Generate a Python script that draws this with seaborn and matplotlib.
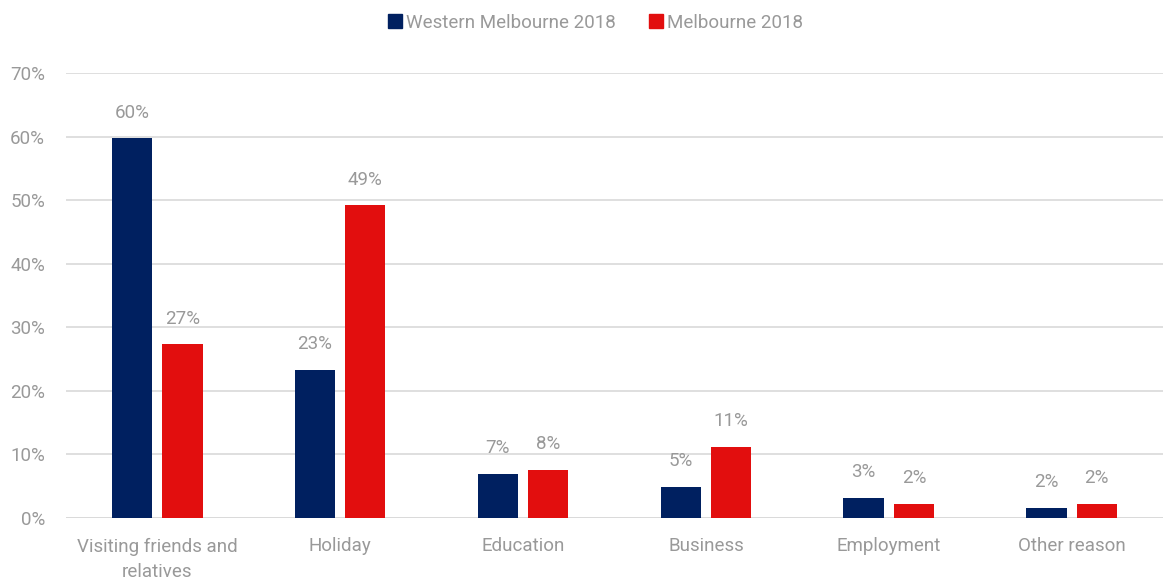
import pandas as pd
import seaborn as sns
import matplotlib.pyplot as plt

categories = ["Visiting friends and\nrelatives", "Holiday", "Education", "Business", "Employment", "Other reason"]
western = [59.7, 23.3, 6.9, 4.9, 3.2, 1.6]
melbourne = [27.3, 49.2, 7.6, 11.2, 2.2, 2.2]
series = ["Western Melbourne 2018", "Melbourne 2018"]
colors = ["#002060", "#E20E0E"]
grey = "#999999"

df = pd.DataFrame({
    "category": categories * 2,
    "value": western + melbourne,
    "series": [series[0]] * len(categories) + [series[1]] * len(categories),
})

sns.set_style("white")
plt.rcParams["font.family"] = ["Roboto", "DejaVu Sans"]
fs = 13.5

fig = plt.figure(figsize=(11.63, 5.83), dpi=100)
ax = fig.add_axes([0.0567, 0.1115, 0.9433, 0.7633])

sns.barplot(data=df, x="category", y="value", hue="series", palette=colors,
            saturation=1, width=0.55, gap=0.2, linewidth=0, ax=ax, legend=False)

for cont in ax.containers:
    ax.bar_label(cont, labels=[f"{v:.0f}%" for v in cont.datavalues],
                 padding=12, color=grey, fontsize=fs)

ax.set_ylim(0, 70)
ax.set_xlim(-0.5, 5.5)
ax.set_yticks(range(0, 71, 10))
ax.set_yticklabels([f"{t}%" for t in range(0, 71, 10)])
ax.yaxis.grid(True, color="#D9D9D9", linewidth=1.2)
ax.set_axisbelow(True)
ax.set_xlabel("")
ax.set_ylabel("")
sns.despine(ax=ax, left=True, bottom=True)
ax.axhline(0, color="#D9D9D9", linewidth=1.2, zorder=0)
ax.tick_params(axis="both", length=0, colors=grey, labelsize=fs)
ax.tick_params(axis="y", pad=15)
ax.tick_params(axis="x", pad=14)
for lbl in ax.get_xticklabels():
    lbl.set_linespacing(1.5)

handles = [plt.Line2D([], [], marker="s", linestyle="", markersize=10, color=c) for c in colors]
leg = fig.legend(handles, series, loc="upper center", bbox_to_anchor=(0.511, 1.005), ncol=2,
                 frameon=False, fontsize=fs, handletextpad=0.1, columnspacing=1.6,
                 handlelength=1.0)
for t in leg.get_texts():
    t.set_color(grey)

fig.savefig("out.png", dpi=100)
